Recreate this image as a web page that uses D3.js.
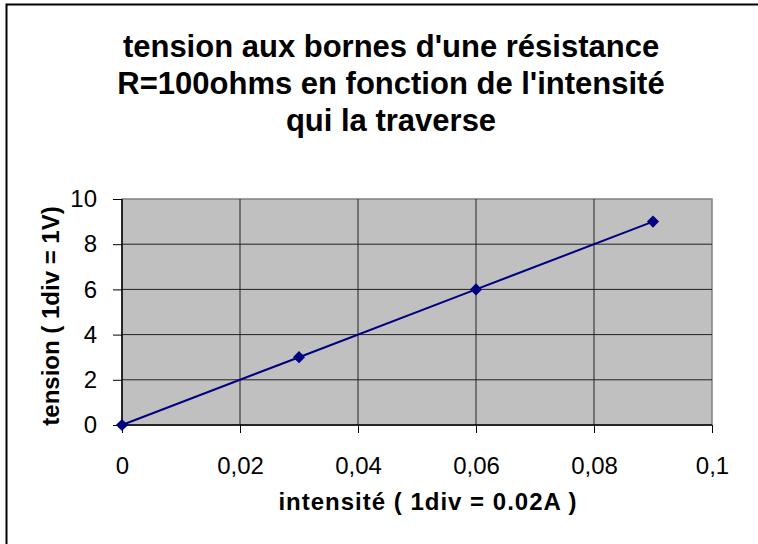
<!DOCTYPE html>
<html lang="fr">
<head>
    <meta charset="UTF-8">
    <title>tension aux bornes d'une résistance</title>
    <style>
        body { margin: 0; background: #fff; }
        text { font-family: Arial, "Liberation Sans", sans-serif; }
        .tick-label { font-size: 24px; fill: #000; }
        .title { font-size: 31px; font-weight: bold; }
        .axis-title { font-size: 24px; font-weight: bold; }
    </style>
</head>
<body>
    <svg id="chart" width="758" height="544"></svg>

    <script src="https://d3js.org/d3.v7.min.js"></script>
    <script>
        // data
        const intensite = [0, 0.03, 0.06, 0.09];
        const tension = [0, 3, 6, 9];
        const xTicks = [0, 0.02, 0.04, 0.06, 0.08, 0.1];
        const yTicks = [0, 2, 4, 6, 8, 10];
        const titleLines = ["tension aux bornes d'une résistance", "R=100ohms en fonction de l'intensité", "qui la traverse"];

        const svg = d3.select("#chart");

        // outer chart border
        svg.append("rect")
            .attr("x", 6.5).attr("y", 4.5)
            .attr("width", 800).attr("height", 600)
            .attr("fill", "#fff")
            .attr("stroke", "#000")
            .attr("stroke-width", 2);

        const plot = { left: 122, top: 199, right: 712, bottom: 425 };

        const x = d3.scaleLinear().domain([0, 0.1]).range([plot.left, plot.right]);
        const y = d3.scaleLinear().domain([0, 10]).range([plot.bottom, plot.top]);

        // plot area
        svg.append("rect")
            .attr("x", plot.left).attr("y", plot.top)
            .attr("width", plot.right - plot.left)
            .attr("height", plot.bottom - plot.top)
            .attr("fill", "#c0c0c0")
            .attr("stroke", "#808080")
            .attr("stroke-width", 1.5);

        // grid
        svg.append("g").selectAll("line.h")
            .data(yTicks.filter(d => d > 0 && d < 10))
            .join("line")
            .attr("x1", plot.left).attr("x2", plot.right)
            .attr("y1", d => y(d)).attr("y2", d => y(d))
            .attr("stroke", "#222").attr("stroke-width", 1);

        svg.append("g").selectAll("line.v")
            .data(xTicks.filter(d => d > 0 && d < 0.1))
            .join("line")
            .attr("x1", d => x(d)).attr("x2", d => x(d))
            .attr("y1", plot.top).attr("y2", plot.bottom)
            .attr("stroke", "#222").attr("stroke-width", 1);

        const fr = d3.formatLocale({ decimal: ",", thousands: " ", grouping: [3], currency: ["", "€"] });
        const fmt = d => fr.format("~g")(d);

        // axes
        const xAxis = svg.append("g")
            .attr("transform", `translate(0,${plot.bottom})`)
            .call(d3.axisBottom(x).tickValues(xTicks).tickFormat(fmt).tickSize(8).tickPadding(24));
        const yAxis = svg.append("g")
            .attr("transform", `translate(${plot.left},0)`)
            .call(d3.axisLeft(y).tickValues(yTicks).tickSize(9).tickPadding(16));

        [xAxis, yAxis].forEach(a => {
            a.select(".domain").attr("stroke", "#000").attr("stroke-width", 1.5);
            a.selectAll(".tick line").attr("stroke", "#000");
            a.selectAll(".tick text")
                .attr("class", "tick-label")
                .attr("font-family", null)
                .attr("font-size", null);
        });
        xAxis.select(".domain").attr("d", `M${plot.left},0H${plot.right}`);
        yAxis.select(".domain").attr("d", `M0,${plot.bottom}V${plot.top}`);

        // series
        const pts = intensite.map((d, i) => [d, tension[i]]);
        svg.append("path")
            .datum(pts)
            .attr("fill", "none")
            .attr("stroke", "#000080")
            .attr("stroke-width", 2)
            .attr("d", d3.line().x(d => x(d[0])).y(d => y(d[1])));

        svg.append("g").selectAll("path")
            .data(pts)
            .join("path")
            .attr("transform", d => `translate(${x(d[0])},${y(d[1])}) rotate(45)`)
            .attr("d", "M-4.3,-4.3H4.3V4.3H-4.3Z")
            .attr("fill", "#000080");

        // titles
        svg.append("g").selectAll("text")
            .data(titleLines)
            .join("text")
            .attr("class", "title")
            .attr("x", 391)
            .attr("y", (d, i) => 57 + i * 37)
            .attr("text-anchor", "middle")
            .text(d => d);

        svg.append("text")
            .attr("class", "axis-title")
            .attr("x", 428).attr("y", 510)
            .attr("text-anchor", "middle")
            .attr("letter-spacing", 1)
            .text("intensité ( 1div = 0.02A )");

        svg.append("text")
            .attr("class", "axis-title")
            .attr("transform", "translate(59,316) rotate(-90)")
            .attr("text-anchor", "middle")
            .text("tension ( 1div = 1V)");
    </script>
</body>
</html>
